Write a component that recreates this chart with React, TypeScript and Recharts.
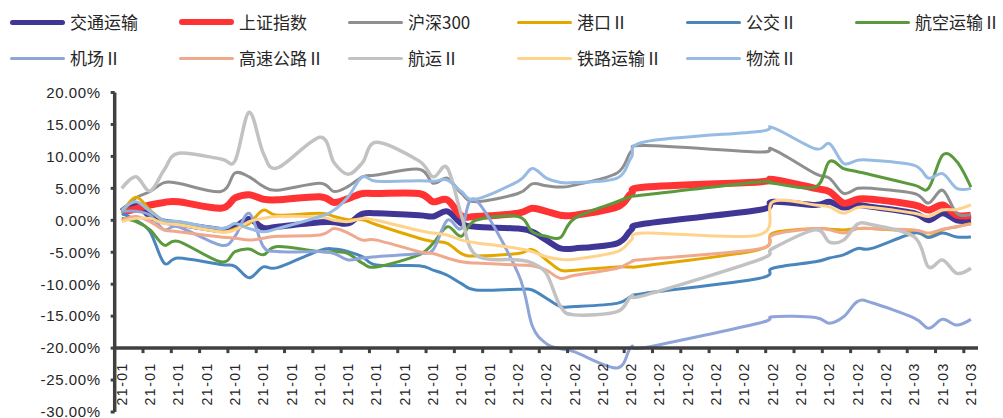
import React from "react";
import { LineChart, Line, XAxis, YAxis, ReferenceLine } from "recharts";

// trading days, Jan 4 – Mar 5 2021
const tradeDates = [
  "2021-01-04", "2021-01-05", "2021-01-06", "2021-01-07", "2021-01-08",
  "2021-01-11", "2021-01-12", "2021-01-13", "2021-01-14", "2021-01-15",
  "2021-01-18", "2021-01-19", "2021-01-20", "2021-01-21", "2021-01-22",
  "2021-01-25", "2021-01-26", "2021-01-27", "2021-01-28", "2021-01-29",
  "2021-02-01", "2021-02-02", "2021-02-03", "2021-02-04", "2021-02-05",
  "2021-02-08", "2021-02-09", "2021-02-10",
  "2021-02-18", "2021-02-19",
  "2021-02-22", "2021-02-23", "2021-02-24", "2021-02-25", "2021-02-26",
  "2021-03-01", "2021-03-02", "2021-03-03", "2021-03-04", "2021-03-05",
];

// cumulative change, %
const transport = [1.4, 2.5, 0.6, -0.2, -0.5, -1.5, -1.0, 0.2, -1.2, -1.0, -0.3, -0.3, -0.5, 1.0, 1.1, 0.8, 0.6, 1.4, -0.5, -1.0, -1.3, -1.8, -3.1, -4.4, -4.4, -3.6, -1.5, -0.5, 1.6, 2.9, 2.4, 2.9, 2.0, 2.4, 2.1, 1.1, 0.0, 1.1, 0.0, 0.0];
const shIndex = [1.2, 1.8, 2.4, 2.8, 2.9, 1.9, 3.5, 4.0, 3.3, 3.2, 3.7, 2.8, 3.4, 4.2, 4.2, 4.2, 2.9, 3.2, 0.7, 0.6, 1.1, 1.9, 1.4, 0.8, 0.8, 2.1, 4.2, 5.2, 6.0, 6.4, 5.0, 4.5, 2.7, 3.3, 3.3, 2.4, 1.6, 2.4, 0.8, 0.8];
const hs300 = [1.5, 3.5, 4.5, 5.9, 5.8, 4.5, 7.4, 6.8, 5.3, 4.7, 5.8, 4.5, 5.3, 6.8, 7.1, 8.0, 5.8, 6.6, 4.2, 2.9, 4.2, 5.7, 5.4, 5.2, 5.5, 7.4, 10.8, 11.7, 10.7, 11.1, 7.3, 6.6, 4.2, 5.0, 5.0, 4.2, 2.7, 4.7, 1.1, 0.9];
const ports = [1.1, 3.6, 1.6, -0.2, -0.5, -1.8, -1.3, -0.5, 1.6, 0.8, 1.1, 0.6, 0.1, 0.1, -0.7, -2.8, -3.3, -3.6, -5.2, -5.6, -5.2, -4.6, -6.2, -7.8, -7.8, -7.3, -7.3, -7.1, -4.6, -2.0, -1.3, -1.4, -1.5, -1.3, -1.3, -1.8, -2.6, -1.5, -1.0, -0.5];
const bus = [1.1, 0.0, -1.8, -6.7, -5.9, -6.9, -7.2, -9.0, -7.3, -7.4, -4.7, -4.5, -4.9, -5.7, -7.0, -7.1, -7.8, -8.6, -9.9, -10.9, -10.8, -10.9, -12.2, -13.5, -13.5, -13.0, -11.9, -11.4, -9.1, -7.5, -6.5, -5.9, -5.4, -4.4, -4.4, -2.0, -2.7, -2.0, -2.6, -2.6];
const airlines = [0.3, -0.2, -1.5, -3.9, -3.3, -6.5, -4.9, -4.5, -5.4, -4.1, -4.9, -4.9, -5.2, -6.7, -7.3, -5.4, -3.6, -1.0, -2.5, 0.0, 0.6, -1.8, -2.5, -2.7, 0.3, 2.9, 3.7, 4.0, 6.0, 5.8, 5.2, 9.2, 8.1, 7.6, 7.1, 5.5, 5.0, 10.2, 9.2, 5.2];
const airports = [1.4, 1.4, 0.8, -1.5, -1.0, -3.9, -2.5, 1.1, -4.1, -4.9, -4.9, -5.2, -6.2, -5.9, -5.7, -5.2, -4.6, 0.0, -1.3, 3.2, -8.3, -16.5, -19.3, -20.1, -20.6, -23.1, -19.8, -19.9, -16.1, -15.1, -15.2, -16.1, -15.1, -12.7, -12.9, -15.3, -16.9, -15.5, -16.4, -15.5];
const highways = [0.0, 0.6, -0.2, -1.5, -1.8, -2.6, -2.8, -3.1, -2.8, -2.5, -2.3, -1.3, -2.0, -3.1, -3.1, -4.9, -5.2, -5.9, -6.5, -6.7, -7.0, -7.1, -7.8, -9.1, -8.6, -7.5, -6.5, -6.1, -4.5, -2.3, -1.3, -1.5, -2.0, -1.3, -1.3, -1.5, -2.0, -1.4, -1.0, -0.6];
const shipping = [5.0, 6.8, 4.6, 7.9, 10.5, 9.6, 9.3, 16.9, 10.5, 8.2, 13.0, 9.0, 7.2, 9.0, 12.2, 9.3, 6.8, 8.2, 0.8, -5.4, -6.2, -6.7, -8.3, -13.5, -14.8, -14.3, -11.9, -11.7, -6.2, -4.4, -1.5, -3.4, -3.1, -0.6, -0.7, -2.6, -7.3, -6.2, -8.3, -7.5];
const railways = [-0.2, 0.3, 0.3, -0.5, -0.7, -1.8, -1.5, -0.2, 0.3, 0.6, 0.5, 0.0, -0.2, 0.3, 0.0, -1.6, -2.0, -2.3, -3.1, -3.5, -4.4, -4.9, -5.7, -6.1, -6.1, -4.9, -3.1, -2.0, -2.3, 2.9, 2.4, 2.1, 1.1, 2.0, 2.0, 1.1, 0.6, 1.6, 1.7, 2.4];
const logistics = [1.6, 2.9, 1.4, 0.0, -0.2, -1.3, -0.5, -1.3, -1.8, -1.3, 0.6, 1.6, 3.7, 6.8, 6.1, 6.2, 6.1, 6.3, 4.5, 3.3, 6.1, 8.1, 6.6, 5.9, 5.9, 6.6, 9.8, 12.3, 13.9, 14.5, 11.2, 12.0, 8.9, 9.4, 9.4, 8.6, 6.6, 7.3, 5.0, 5.0];

// date axis: one label every two calendar days
const tickLabels = [
  ...Array(14).fill("21-01"),
  ...Array(14).fill("21-02"),
  ...Array(3).fill("21-03"),
];
const tickDays = tickLabels.map((_, i) => i * 2);
const yTicks = [-30, -25, -20, -15, -10, -5, 0, 5, 10, 15, 20];

const series = [
  { key: "transport", name: "交通运输", color: "#403696", width: 6, values: transport },
  { key: "shIndex", name: "上证指数", color: "#FF3333", width: 7, values: shIndex },
  { key: "hs300", name: "沪深300", color: "#8F8F8F", width: 3, values: hs300 },
  { key: "ports", name: "港口Ⅱ", color: "#E4A700", width: 3, values: ports },
  { key: "bus", name: "公交Ⅱ", color: "#4A86BE", width: 3, values: bus },
  { key: "airlines", name: "航空运输Ⅱ", color: "#5A9A3C", width: 3, values: airlines },
  { key: "airports", name: "机场Ⅱ", color: "#8FA5D9", width: 3, values: airports },
  { key: "highways", name: "高速公路Ⅱ", color: "#F0A98C", width: 3, values: highways },
  { key: "shipping", name: "航运Ⅱ", color: "#C2C2C2", width: 3.5, values: shipping },
  { key: "railways", name: "铁路运输Ⅱ", color: "#FFD38C", width: 3, values: railways },
  { key: "logistics", name: "物流Ⅱ", color: "#97BBE3", width: 3, values: logistics },
];

const DAY0 = Date.UTC(2021, 0, 4);
const data = tradeDates.map((d, i) => {
  const [y, m, dd] = d.split("-").map(Number);
  const row: Record<string, number> = { day: (Date.UTC(y, m - 1, dd) - DAY0) / 86400000 };
  series.forEach((s) => (row[s.key] = s.values[i]));
  return row;
});

const W = 1003;
const H = 418;
const MARGIN = { top: 92.5, right: 25, bottom: 5, left: 14.7 };
const Y_AXIS_W = 100;
const X_DOMAIN: [number, number] = [-0.5, 60.5];
const Y_DOMAIN: [number, number] = [-30, 20];
const X_CROSS = -20; // category axis crosses the value axis here

const PLOT_TOP = MARGIN.top;
const PLOT_H = H - MARGIN.top - MARGIN.bottom - 1;
const PLOT_W = W - MARGIN.left - MARGIN.right - Y_AXIS_W;
const AXIS_Y = PLOT_TOP + ((Y_DOMAIN[1] - X_CROSS) / (Y_DOMAIN[1] - Y_DOMAIN[0])) * PLOT_H;
const DAY_PX = PLOT_W / (X_DOMAIN[1] - X_DOMAIN[0]);

const AXIS_COLOR = "#404040";
const TEXT_COLOR = "#262626";
const NUM_FONT = '"Liberation Sans", Arial, sans-serif';
const CJK_FONT = '"Noto Sans CJK SC", "Liberation Sans", sans-serif';

// Catmull-Rom style smoothing (cardinal spline, tension 0), same interface as a d3 curve
function smoothCurve(context: any) {
  const k = 1 / 6;
  let x0 = NaN, y0 = NaN, x1 = NaN, y1 = NaN, x2 = NaN, y2 = NaN;
  let pt = 0;
  const seg = (x: number, y: number) =>
    context.bezierCurveTo(
      x1 + k * (x2 - x0),
      y1 + k * (y2 - y0),
      x2 + k * (x1 - x),
      y2 + k * (y1 - y),
      x2,
      y2
    );
  return {
    areaStart() {},
    areaEnd() {},
    lineStart() {
      x0 = x1 = x2 = y0 = y1 = y2 = NaN;
      pt = 0;
    },
    lineEnd() {
      if (pt === 2) context.lineTo(x2, y2);
      else if (pt === 3) seg(x1, y1);
    },
    point(xv: number, yv: number) {
      const x = +xv;
      const y = +yv;
      if (pt === 0) {
        pt = 1;
        context.moveTo(x, y);
      } else if (pt === 1) {
        pt = 2;
        x1 = x;
        y1 = y;
      } else {
        pt = 3;
        seg(x, y);
      }
      x0 = x1; x1 = x2; x2 = x;
      y0 = y1; y1 = y2; y2 = y;
    },
  };
}

function DateTick(props: any) {
  const { x, payload } = props;
  const idx = tickDays.indexOf(payload.value);
  const ty = AXIS_Y + 14;
  const markX = x + 1.5 * DAY_PX;
  return (
    <g>
      <text
        x={x}
        y={ty}
        dy="0.35em"
        transform={`rotate(-90 ${x} ${ty})`}
        textAnchor="end"
        fontSize={14}
        letterSpacing={1.5}
        fontFamily={NUM_FONT}
        fill={TEXT_COLOR}
      >
        {tickLabels[idx]}
      </text>
      {payload.value + 1.5 < X_DOMAIN[1] && (
        <line x1={markX} x2={markX} y1={AXIS_Y} y2={AXIS_Y + 5} stroke={AXIS_COLOR} strokeWidth={3} />
      )}
    </g>
  );
}

function LegendBox() {
  return (
    <div style={{ position: "absolute", left: 0, top: 0, width: W, height: 80 }}>
      {series.map((s, i) => {
        const col = i < 6 ? i : i - 6;
        const row = i < 6 ? 0 : 1;
        const lw = s.key === "transport" ? 5 : s.key === "shIndex" ? 6 : 3;
        return (
          <div
            key={s.key}
            style={{
              position: "absolute",
              left: 10 + col * 169,
              top: 22 + row * 36 - 12,
              height: 24,
              display: "flex",
              alignItems: "center",
              whiteSpace: "nowrap",
            }}
          >
            <div style={{ width: 55, height: lw, borderRadius: lw / 2, background: s.color }} />
            <span
              style={{
                marginLeft: 5,
                fontFamily: CJK_FONT,
                fontSize: 17,
                color: TEXT_COLOR,
                lineHeight: "24px",
              }}
            >
              {s.name}
            </span>
          </div>
        );
      })}
    </div>
  );
}

export default function App() {
  return (
    <div style={{ position: "absolute", left: 0, top: 0, width: W, height: H, background: "#fff" }}>
      <LineChart width={W} height={H} data={data} margin={MARGIN}>
        <XAxis
          dataKey="day"
          type="number"
          domain={X_DOMAIN}
          ticks={tickDays}
          interval={0}
          height={1}
          axisLine={false}
          tickLine={false}
          tickSize={0}
          tick={<DateTick />}
        />
        <YAxis
          type="number"
          domain={Y_DOMAIN}
          ticks={yTicks}
          interval={0}
          width={Y_AXIS_W}
          axisLine={{ stroke: AXIS_COLOR, strokeWidth: 3.5 }}
          tickLine={{ stroke: AXIS_COLOR, strokeWidth: 3 }}
          tickSize={4}
          tickMargin={10}
          tick={{ fontSize: 15, fill: TEXT_COLOR, fontFamily: NUM_FONT, letterSpacing: 0.6 }}
          tickFormatter={(v: number) => `${v.toFixed(2)}%`}
        />
        {series.map((s) => (
          <Line
            key={s.key}
            dataKey={s.key}
            name={s.name}
            type={smoothCurve as any}
            stroke={s.color}
            strokeWidth={s.width}
            strokeLinejoin="round"
            dot={false}
            activeDot={false}
            isAnimationActive={false}
          />
        ))}
        <ReferenceLine y={X_CROSS} stroke={AXIS_COLOR} strokeWidth={3.5} />
      </LineChart>
      <LegendBox />
    </div>
  );
}
